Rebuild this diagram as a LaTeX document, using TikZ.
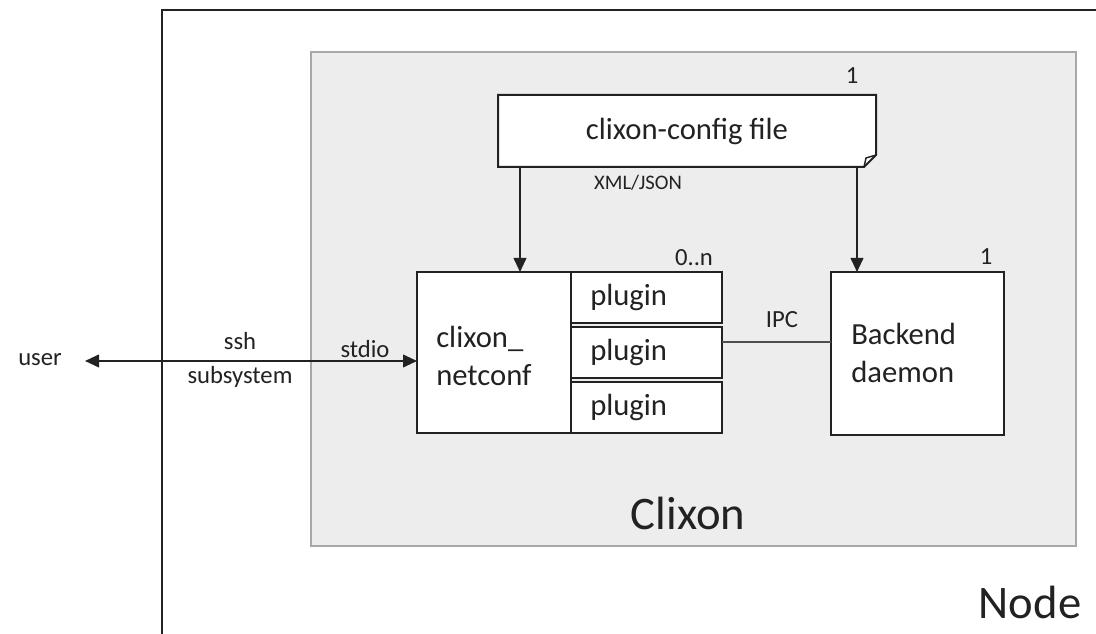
\documentclass[tikz,border=0pt]{standalone}
\usepackage{fontspec}
\setmainfont{Carlito}
\usetikzlibrary{arrows.meta}
\definecolor{inkc}{HTML}{222222}
\definecolor{panel}{HTML}{EDEDED}
\definecolor{panelline}{HTML}{A8A8A8}
\begin{document}
\begin{tikzpicture}[x=0.75pt,y=-0.75pt,
  box/.style={draw=inkc,line width=1.5pt,fill=white},
  big/.style={font=\fontsize{23}{28}\selectfont,text=inkc},
  lbl/.style={font=\fontsize{18.5}{25}\selectfont,text=inkc,align=center,inner sep=0pt},
  small/.style={font=\fontsize{15.5}{19}\selectfont,text=inkc,inner sep=0pt},
  huge/.style={font=\fontsize{35}{40}\selectfont,text=inkc,inner sep=0pt},
  tipk/.tip={Triangle[length=10.5pt,width=9.5pt]},
  arr/.style={draw=inkc,line width=1.4pt,-tipk},
  ]
\useasboundingbox (0,0) rectangle (1096,634);
\clip (0,0) rectangle (1096,634);
\fill[white] (0,0) rectangle (1096,634);
% outer Node box
\draw[draw=inkc,line width=1.5pt] (162,660) -- (162,10) -- (1120,10);
% Clixon panel
\draw[draw=panelline,line width=1.1pt,fill=panel] (311,52) rectangle (1076,546);
% config file
\coordinate (cfA) at (498,95);
\coordinate (cfB) at (876,95);
\coordinate (cfC) at (876,155);
\coordinate (cfD) at (864,167);
\coordinate (cfE) at (498,167);
\coordinate (cfF) at (866,158);
\draw[box,line join=miter] (cfA) -- (cfB) -- (cfC) -- (cfD) -- (cfE) -- cycle;
\draw[draw=inkc,line width=1.1pt] (cfD) -- (cfF) -- (cfC);
\node[big,inner sep=0pt] (cfg) at (687,131) {clixon-config file};
\coordinate (cfgL) at (520,167);
\coordinate (cfgR) at (857,167);
% netconf
\node[box,minimum width=154*0.75pt,minimum height=161*0.75pt,inner sep=0pt] (nc) at (494,352.5) {};
\node[big,align=left,anchor=west,inner sep=0pt] (nct) at (436,356) {clixon\_\\netconf};
% plugins
\node[box,minimum width=151*0.75pt,minimum height=51*0.75pt,inner sep=0pt] (p1) at (646.5,297.5) {};
\node[box,minimum width=151*0.75pt,minimum height=51*0.75pt,inner sep=0pt] (p2) at (646.5,352.5) {};
\node[box,minimum width=151*0.75pt,minimum height=51*0.75pt,inner sep=0pt] (p3) at (646.5,407.5) {};
\node[big,anchor=west,inner sep=0pt] at (590,297) {plugin};
\node[big,anchor=west,inner sep=0pt] at (590,352) {plugin};
\node[big,anchor=west,inner sep=0pt] at (590,407) {plugin};
% backend
\node[box,minimum width=173*0.75pt,minimum height=163*0.75pt,inner sep=0pt] (be) at (917.5,353.5) {};
\node[big,align=left,anchor=west,inner sep=0pt] (bet) at (851,353) {Backend\\daemon};
% arrows from config
\coordinate (ncT) at (520,272);
\coordinate (beT) at (857,272);
\draw[arr] (cfgL) -- (ncT);
\draw[arr] (cfgR) -- (beT);
% IPC
\coordinate (ipcL) at (722,342);
\coordinate (ipcR) at (831,342);
\draw[draw=inkc!80,line width=1.1pt] (ipcL) -- (ipcR);
\node[lbl] at (782,320) {IPC};
% user
\node[lbl] (user) at (40,360) {user};
\coordinate (userR) at (85,361);
\coordinate (ncL) at (417,361);
\draw[draw=inkc,line width=1.4pt,tipk-tipk] (userR) -- (ncL);
\node[lbl] at (240,360) {ssh\\subsystem};
\node[lbl] at (365,349) {stdio};
% multiplicities
\node[lbl] at (852,76) {1};
\node[lbl] at (694,258) {0..n};
\node[lbl] at (986,257) {1};
\node[small] at (638,183) {XML/JSON};
% titles
\node[huge] at (688,513) {Clixon};
\node[huge] at (1030,602) {Node};
\end{tikzpicture}
\end{document}
